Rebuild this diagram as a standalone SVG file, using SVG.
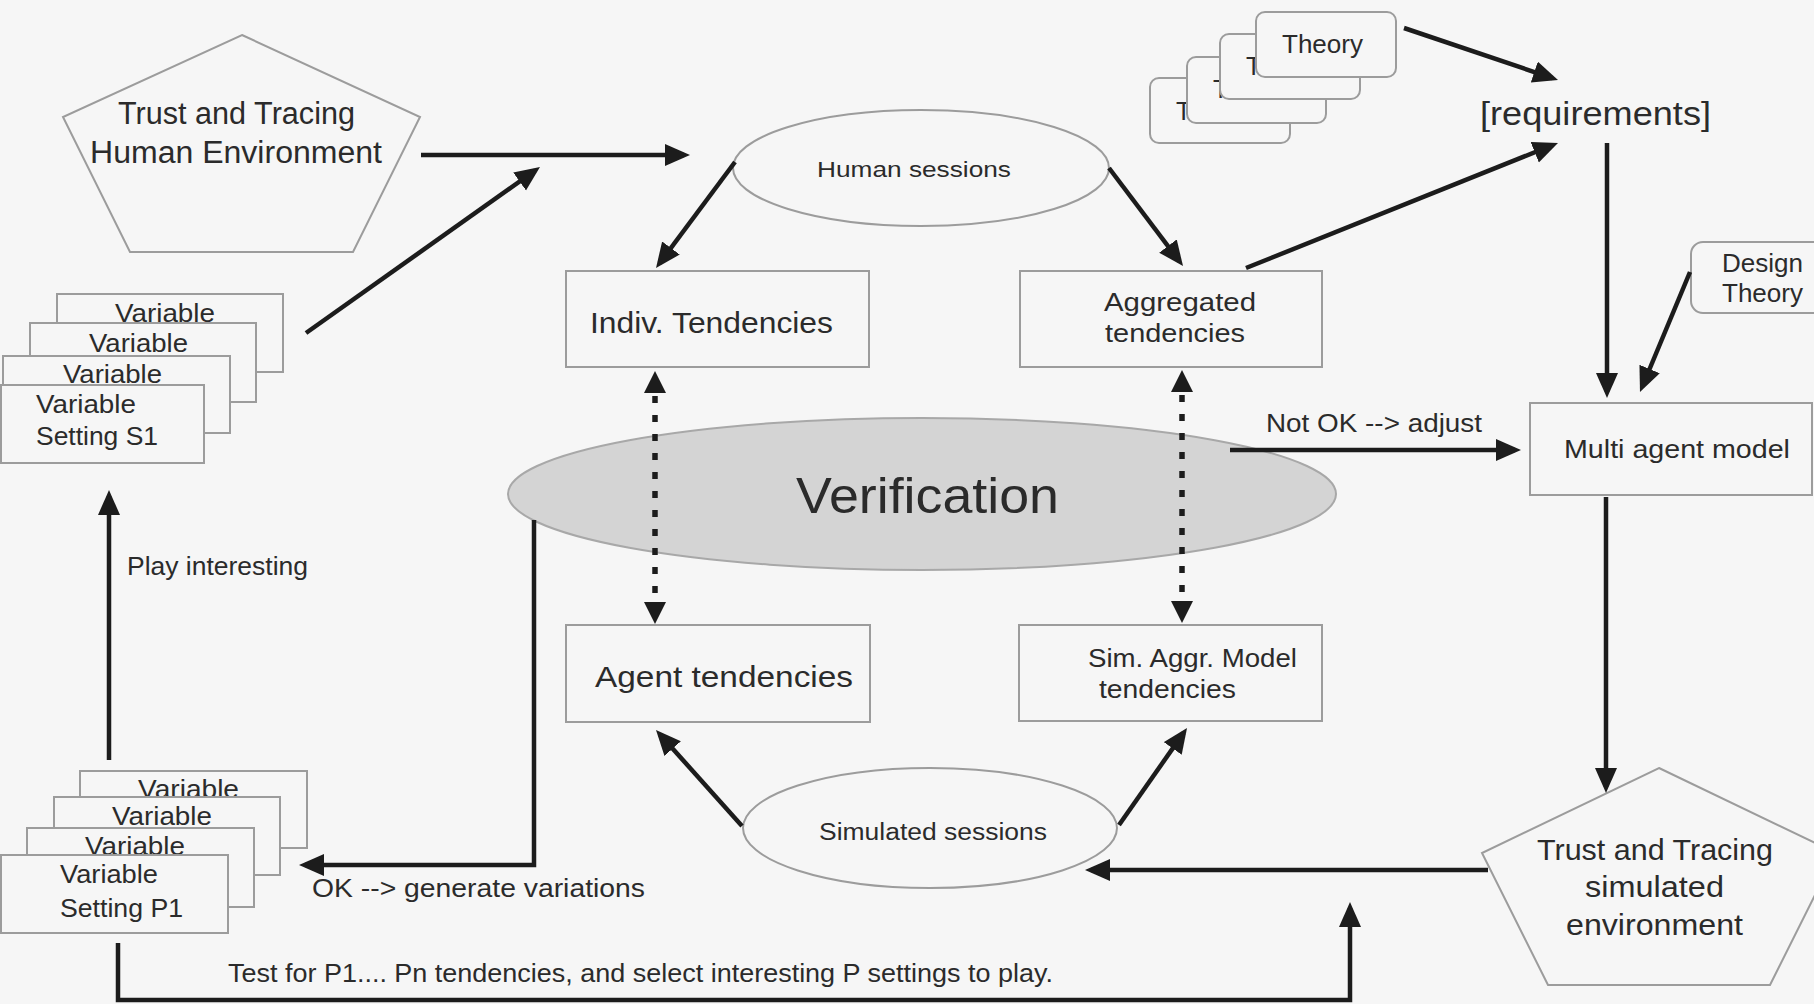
<svg xmlns="http://www.w3.org/2000/svg" width="1814" height="1004" viewBox="0 0 1814 1004">
<defs>
<style>
.bg{fill:#f6f6f6}
.box{fill:#f6f6f6;stroke:#9c9c9c;stroke-width:2}
.ell{fill:#f6f6f6;stroke:#9c9c9c;stroke-width:2}
.ver{fill:#d4d4d4;stroke:#a8a8a8;stroke-width:2}
.t{font-family:"Liberation Sans",Arial,sans-serif;fill:#2b2b2b}
.conn{stroke:#1c1c1c;stroke-width:4.5;fill:none}
.dash{stroke:#1c1c1c;stroke-width:5.5;fill:none;stroke-dasharray:7 12}
</style>
<marker id="ah" markerUnits="userSpaceOnUse" markerWidth="26" markerHeight="24" refX="19" refY="11" orient="auto">
<path d="M0,0 L25,11 L0,22 z" fill="#1c1c1c"/>
</marker>
<marker id="dh" markerUnits="userSpaceOnUse" markerWidth="24" markerHeight="24" refX="16" refY="11" orient="auto-start-reverse">
<path d="M0,0 L22,11 L0,22 z" fill="#1c1c1c"/>
</marker>
</defs>
<rect class="bg" x="0" y="0" width="1814" height="1004"/>

<g id="human-environment">
<polygon class="box" points="242,35 420,117 353,252 130,252 63,117"/>
<text class="t" x="118" y="124" font-size="31" textLength="237" lengthAdjust="spacingAndGlyphs">Trust and Tracing</text>
<text class="t" x="90" y="163" font-size="31" textLength="292" lengthAdjust="spacingAndGlyphs">Human Environment</text>
</g>

<g id="variable-settings-s">
<rect class="box" x="57" y="294" width="226" height="78"/>
<text class="t" x="115" y="322" font-size="25" textLength="100" lengthAdjust="spacingAndGlyphs">Variable</text>
<rect class="box" x="30" y="323" width="226" height="79"/>
<text class="t" x="89" y="352" font-size="25" textLength="99" lengthAdjust="spacingAndGlyphs">Variable</text>
<rect class="box" x="3" y="356" width="227" height="77"/>
<text class="t" x="63" y="383" font-size="25" textLength="99" lengthAdjust="spacingAndGlyphs">Variable</text>
<rect class="box" x="1" y="385" width="203" height="78"/>
<text class="t" x="36" y="413" font-size="25" textLength="100" lengthAdjust="spacingAndGlyphs">Variable</text>
<text class="t" x="36" y="445" font-size="25" textLength="122" lengthAdjust="spacingAndGlyphs">Setting  S1</text>
</g>

<g id="human-sessions">
<ellipse class="ell" cx="921" cy="168" rx="188" ry="58"/>
<text class="t" x="817" y="177" font-size="22" textLength="194" lengthAdjust="spacingAndGlyphs">Human sessions</text>
</g>

<g id="indiv-tendencies">
<rect class="box" x="566" y="271" width="303" height="96"/>
<text class="t" x="590" y="333" font-size="29" textLength="243" lengthAdjust="spacingAndGlyphs">Indiv. Tendencies</text>
</g>

<g id="aggregated-tendencies">
<rect class="box" x="1020" y="271" width="302" height="96"/>
<text class="t" x="1104" y="311" font-size="25" textLength="152" lengthAdjust="spacingAndGlyphs">Aggregated</text>
<text class="t" x="1105" y="342" font-size="25" textLength="140" lengthAdjust="spacingAndGlyphs">tendencies</text>
</g>

<g id="theory-stack">
<rect class="box" x="1150" y="78" width="140" height="65" rx="9"/>
<text class="t" x="1176" y="120" font-size="25">T</text>
<rect class="box" x="1187" y="57" width="139" height="66" rx="9"/>
<text class="t" x="1213" y="98" font-size="25">T</text>
<rect class="box" x="1220" y="34" width="140" height="65" rx="9"/>
<text class="t" x="1246" y="75" font-size="25">T</text>
<rect class="box" x="1256" y="12" width="140" height="65" rx="9"/>
<text class="t" x="1282" y="53" font-size="25" textLength="81" lengthAdjust="spacingAndGlyphs">Theory</text>
</g>

<g id="requirements">
<text class="t" x="1480" y="125" font-size="34" textLength="231" lengthAdjust="spacingAndGlyphs">[requirements]</text>
</g>

<g id="design-theory">
<rect class="box" x="1691" y="242" width="140" height="71" rx="12"/>
<text class="t" x="1722" y="272" font-size="25" textLength="81" lengthAdjust="spacingAndGlyphs">Design</text>
<text class="t" x="1722" y="302" font-size="25" textLength="81" lengthAdjust="spacingAndGlyphs">Theory</text>
</g>

<g id="multi-agent-model">
<rect class="box" x="1530" y="403" width="282" height="92"/>
<text class="t" x="1564" y="458" font-size="26" textLength="226" lengthAdjust="spacingAndGlyphs">Multi agent model</text>
</g>

<g id="verification">
<ellipse class="ver" cx="922" cy="494" rx="414" ry="76"/>
<text class="t" x="796" y="513" font-size="50" textLength="263" lengthAdjust="spacingAndGlyphs">Verification</text>
</g>

<g id="agent-tendencies">
<rect class="box" x="566" y="625" width="304" height="97"/>
<text class="t" x="595" y="687" font-size="30" textLength="258" lengthAdjust="spacingAndGlyphs">Agent tendencies</text>
</g>

<g id="sim-aggr-model-tendencies">
<rect class="box" x="1019" y="625" width="303" height="96"/>
<text class="t" x="1088" y="667" font-size="25" textLength="209" lengthAdjust="spacingAndGlyphs">Sim. Aggr. Model</text>
<text class="t" x="1099" y="698" font-size="25" textLength="137" lengthAdjust="spacingAndGlyphs">tendencies</text>
</g>

<g id="simulated-sessions">
<ellipse class="ell" cx="930" cy="828" rx="187" ry="60"/>
<text class="t" x="819" y="840" font-size="23" textLength="228" lengthAdjust="spacingAndGlyphs">Simulated sessions</text>
</g>

<g id="simulated-environment">
<polygon class="box" points="1659,768 1836,853 1770,985 1548,985 1482,853"/>
<text class="t" x="1537" y="860" font-size="30" textLength="236" lengthAdjust="spacingAndGlyphs">Trust and Tracing</text>
<text class="t" x="1585" y="897" font-size="30" textLength="139" lengthAdjust="spacingAndGlyphs">simulated</text>
<text class="t" x="1566" y="935" font-size="30" textLength="177" lengthAdjust="spacingAndGlyphs">environment</text>
</g>

<g id="variable-settings-p">
<rect class="box" x="80" y="771" width="227" height="77"/>
<text class="t" x="138" y="798" font-size="25" textLength="101" lengthAdjust="spacingAndGlyphs">Variable</text>
<rect class="box" x="54" y="797" width="226" height="78"/>
<text class="t" x="112" y="825" font-size="25" textLength="100" lengthAdjust="spacingAndGlyphs">Variable</text>
<rect class="box" x="27" y="828" width="227" height="79"/>
<text class="t" x="85" y="855" font-size="25" textLength="100" lengthAdjust="spacingAndGlyphs">Variable</text>
<rect class="box" x="1" y="855" width="227" height="78"/>
<text class="t" x="60" y="883" font-size="25" textLength="98" lengthAdjust="spacingAndGlyphs">Variable</text>
<text class="t" x="60" y="917" font-size="25" textLength="123" lengthAdjust="spacingAndGlyphs">Setting  P1</text>
</g>

<g id="connectors">
<line class="conn" x1="421" y1="155" x2="684" y2="155" marker-end="url(#ah)"/>
<line class="conn" x1="306" y1="333" x2="535.1" y2="170.5" marker-end="url(#ah)"/>
<line class="conn" x1="735" y1="162" x2="659.6" y2="263.2" marker-end="url(#ah)"/>
<line class="conn" x1="1109" y1="168" x2="1179.4" y2="261.2" marker-end="url(#ah)"/>
<line class="conn" x1="1404" y1="28" x2="1552.3" y2="78.1" marker-end="url(#ah)"/>
<line class="conn" x1="1246" y1="268" x2="1552.4" y2="145.2" marker-end="url(#ah)"/>
<line class="conn" x1="1607" y1="143" x2="1607" y2="392" marker-end="url(#ah)"/>
<line class="conn" x1="1690" y1="272" x2="1642.3" y2="386.5" marker-end="url(#ah)"/>
<line class="conn" x1="1230" y1="450" x2="1515" y2="450" marker-end="url(#ah)"/>
<line class="conn" x1="1606" y1="497" x2="1606" y2="787" marker-end="url(#ah)"/>
<line class="conn" x1="1488" y1="870" x2="1091" y2="870" marker-end="url(#ah)"/>
<line class="conn" x1="742" y1="826" x2="660" y2="734.5" marker-end="url(#ah)"/>
<line class="conn" x1="1119" y1="825" x2="1183.6" y2="732.9" marker-end="url(#ah)"/>
<path class="conn" d="M534,520 V865 H305" marker-end="url(#ah)"/>
<path class="conn" d="M118,943 V1000 H1350 V908" marker-end="url(#ah)"/>
<line class="conn" x1="109" y1="760" x2="109" y2="496" marker-end="url(#ah)"/>
<line class="dash" x1="655" y1="377" x2="655" y2="618" marker-start="url(#dh)" marker-end="url(#dh)"/>
<line class="dash" x1="1182" y1="376" x2="1182" y2="617" marker-start="url(#dh)" marker-end="url(#dh)"/>
<text class="t" x="1266" y="432" font-size="25" textLength="216" lengthAdjust="spacingAndGlyphs">Not OK --&gt; adjust</text>
<text class="t" x="127" y="575" font-size="26" textLength="181" lengthAdjust="spacingAndGlyphs">Play interesting</text>
<text class="t" x="312" y="897" font-size="25" textLength="333" lengthAdjust="spacingAndGlyphs">OK --&gt; generate variations</text>
<text class="t" x="228" y="982" font-size="25" textLength="825" lengthAdjust="spacingAndGlyphs">Test for P1.... Pn tendencies, and select interesting P settings to play.</text>
</g>
</svg>
